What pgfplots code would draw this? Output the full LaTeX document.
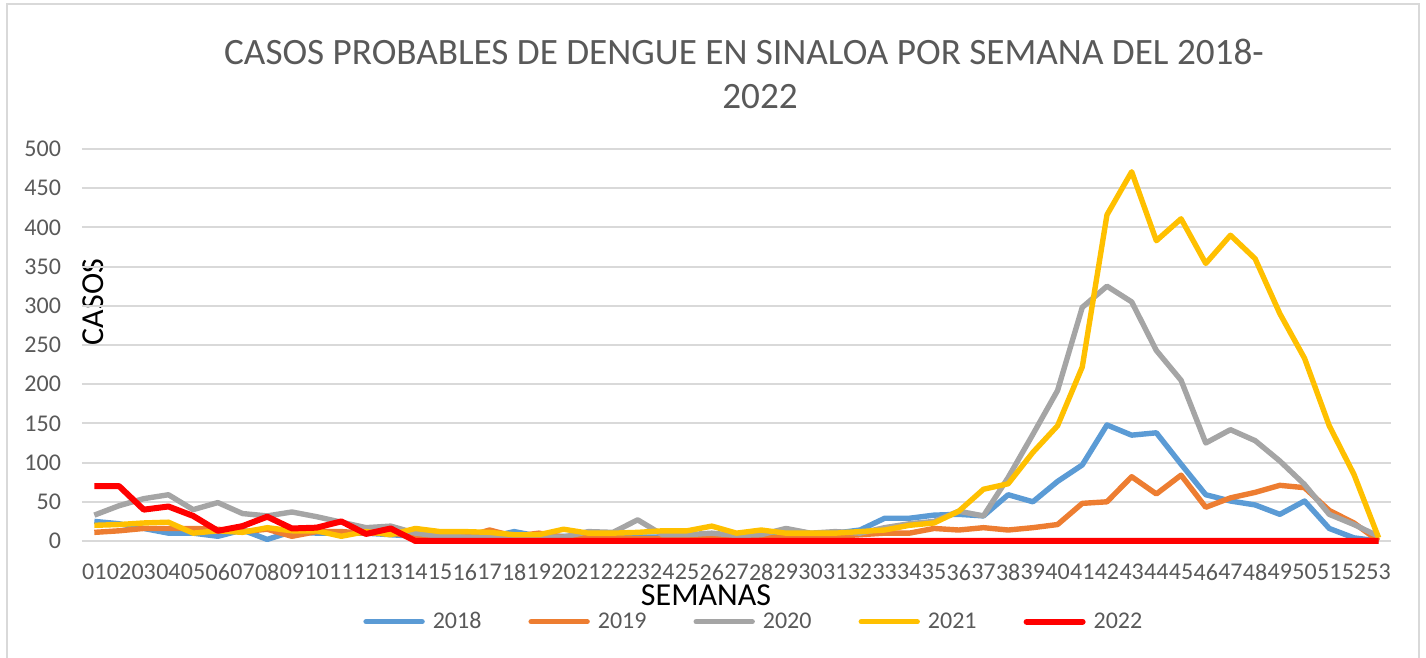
\documentclass[border=0pt]{standalone}
\usepackage{pgfplots}
\pgfplotsset{compat=1.18}
\usepackage{fontspec}
\setmainfont{Carlito}
\definecolor{c18}{HTML}{5B9BD5}
\definecolor{c19}{HTML}{ED7D31}
\definecolor{c20}{HTML}{A5A5A5}
\definecolor{c21}{HTML}{FFC000}
\definecolor{c22}{HTML}{FF0000}
\definecolor{txt}{HTML}{595959}
\definecolor{grd}{HTML}{D9D9D9}
\begin{document}
\begin{tikzpicture}
\path[use as bounding box] (0pt,0pt) rectangle (713pt,329pt);
\draw[grd, line width=1pt] (3.5pt,-5pt) -- (3.5pt,327pt) -- (709.5pt,327pt) -- (709.5pt,-5pt);
\node[font=\fontsize{18.6}{18.6}\selectfont, text=txt] at (372pt,303pt) {CASOS PROBABLES DE DENGUE EN SINALOA POR SEMANA DEL 2018-};
\node[font=\fontsize{18.6}{18.6}\selectfont, text=txt] at (380pt,280.5pt) {2022};
\node[font=\fontsize{16}{16}\selectfont, rotate=90] at (46.5pt,178pt) {CASOS};
\node[font=\fontsize{16}{16}\selectfont, inner sep=0pt] at (353pt,31.5pt) {SEMANAS};
\begin{axis}[
  at={(41pt,58.5pt)}, anchor=south west,
  scale only axis, width=654.5pt, height=196pt,
  xmin=0.5, xmax=53.5, ymin=0, ymax=500,
  clip=false,
  axis line style={draw=none},
  major tick length=0pt,
  ytick={0,50,...,500},
  xtick={1,...,53},
  xticklabels={01,02,03,04,05,06,07,08,09,10,11,12,13,14,15,16,17,18,19,20,21,22,23,24,25,26,27,28,29,30,31,32,33,34,35,36,37,38,39,40,41,42,43,44,45,46,47,48,49,50,51,52,53},
  /pgf/number format/assume math mode=true,
  ticklabel style={font=\fontsize{12}{12}\selectfont, text=txt},
  xticklabel style={yshift=-11.5pt, inner xsep=0pt, inner ysep=0pt},
  yticklabel style={xshift=-7pt},
  ymajorgrids, grid style={grd, line width=1pt},
  legend columns=5,
  legend style={at={(axis description cs:0.514,-0.206)}, anchor=center, draw=none, fill=none,
    font=\fontsize{12}{12}\selectfont, text=txt,
    /tikz/every odd column/.append style={column sep=2pt},
    /tikz/every even column/.append style={column sep=21.5pt}},
  legend image code/.code={\draw[#1, line cap=round] (0pt,0pt) -- (28pt,0pt);},
  every axis plot/.append style={line width=2.7pt, line join=round},
]
\addplot[c18] coordinates {(1,25)(2,22)(3,16)(4,10)(5,10)(6,6)(7,14)(8,2)(9,12)(10,10)(11,10)(12,10)(13,8)(14,6)(15,5)(16,5)(17,5)(18,12)(19,6)(20,6)(21,6)(22,5)(23,5)(24,5)(25,5)(26,5)(27,5)(28,5)(29,8)(30,8)(31,10)(32,14)(33,29)(34,29)(35,33)(36,34)(37,32)(38,59)(39,50)(40,76)(41,97)(42,148)(43,135)(44,138)(45,98)(46,59)(47,51)(48,46)(49,34)(50,51)(51,16)(52,4)(53,0)};
\addplot[c19] coordinates {(1,11)(2,13)(3,16)(4,16)(5,16)(6,15)(7,12)(8,15)(9,6)(10,12)(11,12)(12,10)(13,10)(14,6)(15,5)(16,5)(17,14)(18,6)(19,10)(20,5)(21,4)(22,4)(23,3)(24,3)(25,3)(26,4)(27,4)(28,4)(29,4)(30,5)(31,6)(32,8)(33,10)(34,10)(35,16)(36,14)(37,17)(38,14)(39,17)(40,21)(41,48)(42,50)(43,82)(44,60)(45,84)(46,43)(47,55)(48,62)(49,71)(50,68)(51,39)(52,23)(53,0)};
\addplot[c20] coordinates {(1,33)(2,45)(3,54)(4,59)(5,40)(6,49)(7,35)(8,32)(9,37)(10,31)(11,24)(12,17)(13,19)(14,10)(15,6)(16,5)(17,5)(18,5)(19,5)(20,5)(21,12)(22,11)(23,27)(24,8)(25,8)(26,10)(27,7)(28,8)(29,16)(30,10)(31,12)(32,10)(33,17)(34,22)(35,25)(36,38)(37,32)(38,81)(39,136)(40,192)(41,298)(42,325)(43,305)(44,243)(45,205)(46,125)(47,142)(48,128)(49,102)(50,72)(51,34)(52,21)(53,6)};
\addplot[c21] coordinates {(1,20)(2,21)(3,23)(4,24)(5,10)(6,13)(7,11)(8,17)(9,13)(10,13)(11,6)(12,12)(13,8)(14,16)(15,12)(16,12)(17,11)(18,8)(19,8)(20,15)(21,10)(22,10)(23,11)(24,13)(25,13)(26,19)(27,10)(28,14)(29,10)(30,10)(31,10)(32,12)(33,14)(34,20)(35,23)(36,38)(37,66)(38,73)(39,113)(40,147)(41,222)(42,416)(43,471)(44,383)(45,411)(46,354)(47,390)(48,360)(49,290)(50,233)(51,147)(52,85)(53,4)};
\addplot[c22, line width=3pt] coordinates {(1,70)(2,70)(3,40)(4,44)(5,32)(6,13)(7,19)(8,31)(9,16)(10,17)(11,25)(12,9)(13,16)(14,0)(15,0)(16,0)(17,0)(18,0)(19,0)(20,0)(21,0)(22,0)(23,0)(24,0)(25,0)(26,0)(27,0)(28,0)(29,0)(30,0)(31,0)(32,0)(33,0)(34,0)(35,0)(36,0)(37,0)(38,0)(39,0)(40,0)(41,0)(42,0)(43,0)(44,0)(45,0)(46,0)(47,0)(48,0)(49,0)(50,0)(51,0)(52,0)(53,0)};
\legend{2018,2019,2020,2021,2022}
\end{axis}
\end{tikzpicture}
\end{document}
